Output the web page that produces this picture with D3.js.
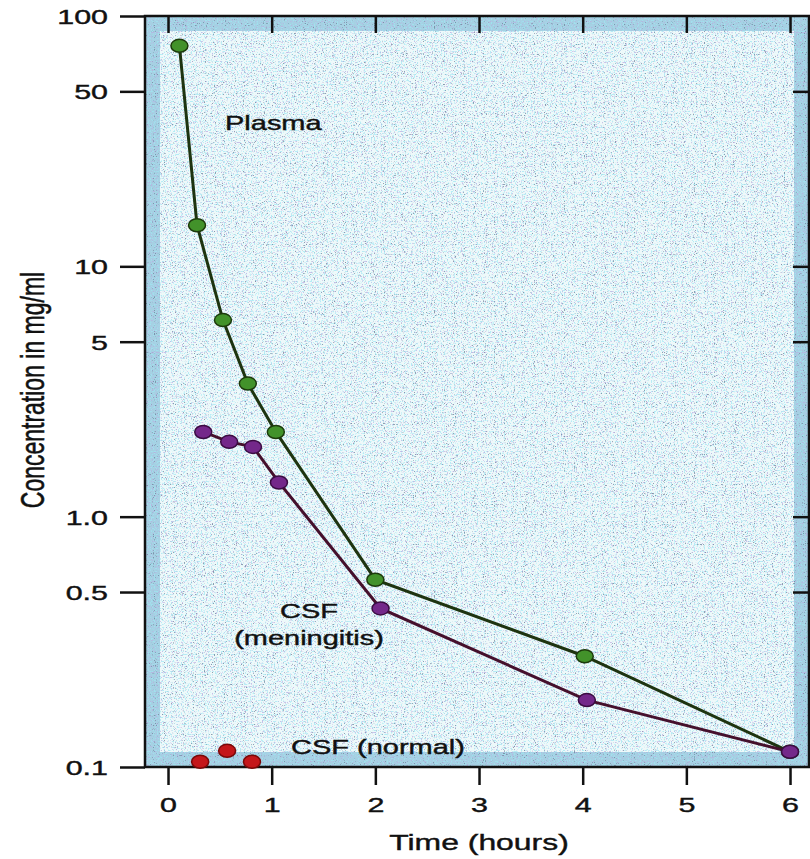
<!DOCTYPE html>
<html>
<head>
<meta charset="utf-8">
<script src="https://cdn.jsdelivr.net/npm/d3@7"></script>
<style>
  body { margin: 0; background: #fff; }
  text { font-family: "Liberation Sans", Arial, Helvetica, sans-serif; fill: #111; stroke: #111; stroke-width: 0.4; }
</style>
</head>
<body>
<script>
// values (time in hours, concentration in mg/ml)
const plasmaTime = [0.11, 0.28, 0.53, 0.77, 1.04, 2.0, 4.02, 6.0]
const plasmaConc = [76, 14.6, 6.1, 3.4, 2.18, 0.56, 0.277, 0.115]

const meningTime = [0.34, 0.59, 0.82, 1.07, 2.05, 4.04, 6.0]
const meningConc = [2.18, 1.99, 1.9, 1.37, 0.43, 0.185, 0.115]

const normalTime = [0.31, 0.57, 0.81]
const normalConc = [0.105, 0.116, 0.105]

const xTicks = [0, 1, 2, 3, 4, 5, 6]
const yTicks = [100, 50, 10, 5, 1, 0.5, 0.1]
const yTickLabels = ['100', '50', '10', '5', '1.0', '0.5', '0.1']

const m = { width: 810, height: 859 }
const frame = { left: 145, top: 16, right: 809, bottom: 767 }
const stretch = 1.45   // the scanned figure is stretched sideways

const svg = d3.select('body').append('svg')
    .attr('width', m.width)
    .attr('height', m.height)

const x = d3.scaleLinear()
    .domain([-0.222, 6.183])
    .range([frame.left, frame.right])

const y = d3.scaleLog()
    .domain([0.1, 100])
    .range([frame.bottom, frame.top])

// speckled background like the printed page
const defs = svg.append('defs')
function speckle(id, seed, freq, rgb, cut) {
    const f = defs.append('filter').attr('id', id)
        .attr('x', 0).attr('y', 0).attr('width', 1).attr('height', 1)
    f.append('feTurbulence')
        .attr('type', 'fractalNoise')
        .attr('baseFrequency', freq)
        .attr('numOctaves', 1)
        .attr('seed', seed)
        .attr('result', 'n')
    f.append('feColorMatrix')
        .attr('in', 'n')
        .attr('type', 'matrix')
        .attr('values', `0 0 0 0 ${rgb[0]}  0 0 0 0 ${rgb[1]}  0 0 0 0 ${rgb[2]}  0 0 -10 0 ${cut}`)
        .attr('result', 'dots')
    f.append('feComposite')
        .attr('in', 'dots')
        .attr('in2', 'SourceGraphic')
        .attr('operator', 'in')
}
speckle('spCyan', 3, 0.7, [0.35, 0.8, 0.9], 4.5)
speckle('spPurple', 11, 0.8, [0.5, 0.4, 0.75], 3.9)
speckle('spDark', 23, 0.9, [0.15, 0.2, 0.3], 3.6)

const w = frame.right - frame.left
const h = frame.bottom - frame.top

svg.append('rect')
    .attr('x', frame.left).attr('y', frame.top)
    .attr('width', w).attr('height', h)
    .attr('fill', '#a6d0e3')
svg.append('rect')
    .attr('x', frame.left + 15).attr('y', frame.top + 15)
    .attr('width', w - 30).attr('height', h - 30)
    .attr('fill', '#eef9fa')
;['spCyan', 'spPurple', 'spDark'].forEach(id => {
    svg.append('rect')
        .attr('x', frame.left).attr('y', frame.top)
        .attr('width', w).attr('height', h)
        .attr('fill', '#000')
        .attr('opacity', 0.7)
        .attr('filter', `url(#${id})`)
})

// frame
svg.append('rect')
    .attr('x', frame.left).attr('y', frame.top)
    .attr('width', w).attr('height', h)
    .attr('fill', 'none')
    .attr('stroke', '#111')
    .attr('stroke-width', 2.5)

// axes
const gLeft = svg.append('g')
    .attr('transform', `translate(${frame.left},0)`)
    .call(d3.axisLeft(y).tickValues(yTicks).tickSize(25).tickPadding(12)
        .tickFormat((d, i) => yTickLabels[i]))
const gBottom = svg.append('g')
    .attr('transform', `translate(0,${frame.bottom})`)
    .call(d3.axisBottom(x).tickValues(xTicks).tickSize(18).tickPadding(9)
        .tickFormat(d3.format('d')))
const gTop = svg.append('g')
    .attr('transform', `translate(0,${frame.top})`)
    .call(d3.axisBottom(x).tickValues(xTicks).tickSize(17).tickFormat(''))
const gRight = svg.append('g')
    .attr('transform', `translate(${frame.right},0)`)
    .call(d3.axisLeft(y).tickValues(yTicks.slice(1, -1)).tickSize(16).tickFormat(''))

;[gLeft, gBottom, gTop, gRight].forEach(g => {
    g.select('.domain').remove()
    g.selectAll('line').attr('stroke', '#111').attr('stroke-width', 2.5)
})

gLeft.selectAll('text')
    .attr('font-size', 21)
    .attr('fill', '#111')
    .attr('x', null).attr('dy', '0.36em')
    .attr('transform', `translate(-37,0) scale(${stretch},1)`)
    .attr('font-family', '"Liberation Sans", Arial, sans-serif')

gBottom.selectAll('text')
    .attr('font-size', 21)
    .attr('fill', '#111')
    .attr('y', null).attr('dy', null)
    .attr('transform', `translate(0,45) scale(${stretch},1)`)
    .attr('font-family', '"Liberation Sans", Arial, sans-serif')

// axis titles
svg.append('text')
    .attr('transform', `translate(479,850) scale(${stretch},1)`)
    .attr('text-anchor', 'middle')
    .attr('font-size', 22)
    .text('Time (hours)')

svg.append('text')
    .attr('transform', `translate(44,390) scale(${stretch},1) rotate(-90)`)
    .attr('text-anchor', 'middle')
    .attr('font-size', 23)
    .text('Concentration in mg/ml')

// lines
const line = d3.line()
    .x(d => x(d[0]))
    .y(d => y(d[1]))

const plasma = plasmaTime.map((t, i) => [t, plasmaConc[i]])
const mening = meningTime.map((t, i) => [t, meningConc[i]])
const normal = normalTime.map((t, i) => [t, normalConc[i]])

svg.append('path')
    .datum(plasma)
    .attr('d', line)
    .attr('fill', 'none')
    .attr('stroke', '#1e3410')
    .attr('stroke-width', 3)

svg.append('path')
    .datum(mening)
    .attr('d', line)
    .attr('fill', 'none')
    .attr('stroke', '#45102c')
    .attr('stroke-width', 3)

function dots(data, fill, edge) {
    svg.append('g').selectAll('ellipse')
        .data(data)
        .enter()
        .append('ellipse')
            .attr('cx', d => x(d[0]))
            .attr('cy', d => y(d[1]))
            .attr('rx', 8.5)
            .attr('ry', 6.5)
            .attr('fill', fill)
            .attr('stroke', edge)
            .attr('stroke-width', 1.5)
}

dots(plasma, '#42922a', '#1c3a0c')
dots(mening, '#74288a', '#3a0c42')
dots(normal, '#c4161a', '#7a0808')

// series labels
function label(tx, ty, s, anchor) {
    svg.append('text')
        .attr('transform', `translate(${tx},${ty}) scale(${stretch},1)`)
        .attr('text-anchor', anchor)
        .attr('font-size', 20)
        .text(s)
}
label(225, 130, 'Plasma', 'start')
label(309, 618, 'CSF', 'middle')
label(309, 645, '(meningitis)', 'middle')
label(291, 754, 'CSF (normal)', 'start')
</script>
</body>
</html>
